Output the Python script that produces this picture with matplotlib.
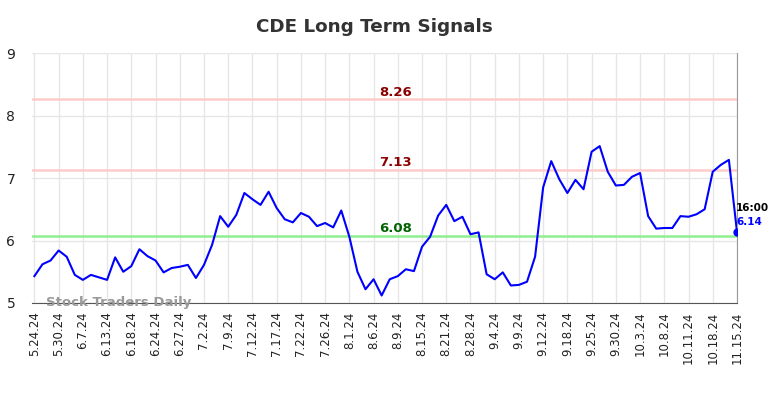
import numpy as np
import matplotlib
matplotlib.use('Agg')
import matplotlib.pyplot as plt

# closing prices, one per point
prices = [5.43, 5.62, 5.68, 5.84, 5.74, 5.45, 5.37, 5.45, 5.41, 5.37,
          5.73, 5.50, 5.59, 5.86, 5.75, 5.68, 5.49, 5.56, 5.58, 5.61,
          5.40, 5.61, 5.93, 6.39, 6.22, 6.41, 6.76, 6.66, 6.57, 6.78,
          6.52, 6.34, 6.29, 6.44, 6.38, 6.23, 6.28, 6.21, 6.48, 6.06,
          5.50, 5.22, 5.38, 5.12, 5.38, 5.43, 5.54, 5.51, 5.90, 6.06,
          6.40, 6.57, 6.31, 6.38, 6.10, 6.13, 5.46, 5.38, 5.49, 5.28,
          5.29, 5.34, 5.74, 6.85, 7.27, 6.98, 6.76, 6.97, 6.82, 7.42,
          7.51, 7.10, 6.88, 6.89, 7.02, 7.08, 6.39, 6.19, 6.20, 6.20,
          6.39, 6.38, 6.42, 6.50, 7.10, 7.21, 7.29, 6.14]

tick_labels = ['5.24.24', '5.30.24', '6.7.24', '6.13.24', '6.18.24', '6.24.24',
               '6.27.24', '7.2.24', '7.9.24', '7.12.24', '7.17.24', '7.22.24',
               '7.26.24', '8.1.24', '8.6.24', '8.9.24', '8.15.24', '8.21.24',
               '8.28.24', '9.4.24', '9.9.24', '9.12.24', '9.18.24', '9.25.24',
               '9.30.24', '10.3.24', '10.8.24', '10.11.24', '10.18.24', '11.15.24']

upper_res = 8.26
mid_res = 7.13
support = 6.08

x = np.arange(len(prices))
tick_pos = np.arange(0, len(prices), 3)

fig = plt.figure(figsize=(7.84, 3.98), dpi=100)
ax = fig.add_axes([0.0408, 0.2387, 0.8992, 0.6281])

ax.axhline(upper_res, color='#ffcccc', lw=1.8, zorder=1)
ax.axhline(mid_res, color='#ffcccc', lw=1.8, zorder=1)
ax.axhline(support, color='#90ee90', lw=1.8, zorder=1)

ax.plot(x, prices, color='blue', lw=1.5, zorder=3)
ax.plot(x[-1], prices[-1], 'o', color='blue', ms=5, zorder=4)

mid_x = 44.7
ax.text(mid_x, upper_res + 0.115, f'{upper_res:.2f}', color='#8b0000',
        fontsize=9.5, fontweight='bold', ha='center', va='center')
ax.text(mid_x, mid_res + 0.115, f'{mid_res:.2f}', color='#8b0000',
        fontsize=9.5, fontweight='bold', ha='center', va='center')
ax.text(mid_x, support + 0.115, f'{support:.2f}', color='#006400',
        fontsize=9.5, fontweight='bold', ha='center', va='center')

ax.text(x[-1] - 0.1, prices[-1] + 0.38, '16:00', color='black',
        fontsize=7.5, fontweight='bold', ha='left', va='center')
ax.text(x[-1] - 0.1, prices[-1] + 0.16, f'{prices[-1]:.2f}', color='blue',
        fontsize=7.5, fontweight='bold', ha='left', va='center')

ax.text(1.4, 5.0, 'Stock Traders Daily', color='#999999', fontsize=9.5,
        fontweight='bold', ha='left', va='center', zorder=5)

ax.set_xlim(-0.3, len(prices) - 1)
ax.set_ylim(5, 9)
ax.set_yticks([5, 6, 7, 8, 9])
ax.set_xticks(tick_pos)
ax.set_xticklabels(tick_labels, rotation=90, fontsize=8.5)
ax.tick_params(axis='both', length=0, colors='#222222')
ax.tick_params(axis='y', labelsize=10, pad=12)
ax.tick_params(axis='x', pad=6)
ax.grid(True, color='#e6e6e6', lw=1)
ax.set_axisbelow(True)

for side in ['top', 'left']:
    ax.spines[side].set_visible(False)
ax.spines['bottom'].set_color('#555555')
ax.spines['right'].set_color('#999999')

fig.suptitle('CDE Long Term Signals', x=0.477, fontsize=13.2, fontweight='bold',
             color='#333333', y=0.955)

fig.savefig('out.png', dpi=100)
